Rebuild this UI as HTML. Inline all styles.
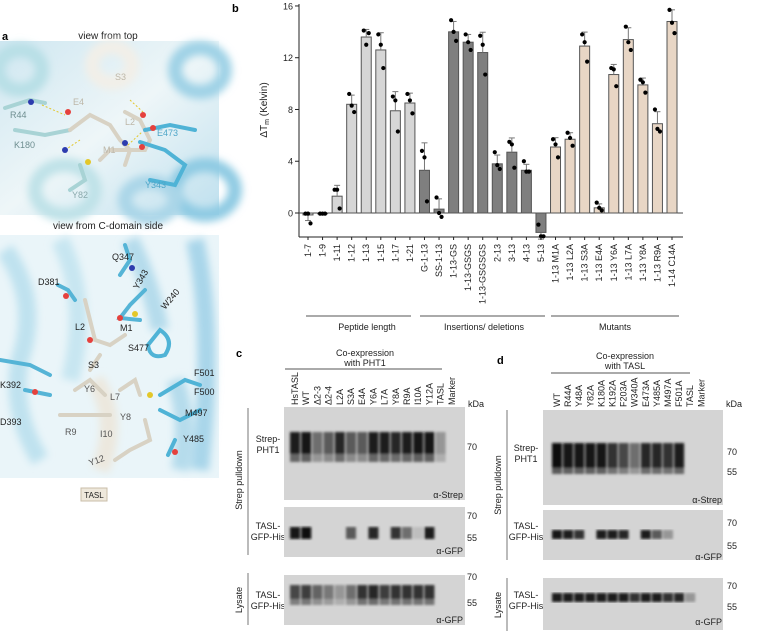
<!DOCTYPE html>
<html><head><meta charset="utf-8">
<style>
html,body{margin:0;padding:0;background:#fff;}
svg{display:block;font-family:"Liberation Sans","DejaVu Sans",sans-serif;}
</style></head>
<body>
<svg id="fig" width="757" height="631" viewBox="0 0 757 631" xmlns="http://www.w3.org/2000/svg">
<defs>
<filter id="blur1"><feGaussianBlur stdDeviation="1.3"/></filter>
<filter id="blur3"><feGaussianBlur stdDeviation="4"/></filter>
<linearGradient id="bgA" x1="0" y1="0" x2="1" y2="1">
<stop offset="0" stop-color="#cfe7f1"/><stop offset="0.5" stop-color="#eef6f8"/><stop offset="1" stop-color="#bfe0ee"/></linearGradient>
</defs>

<!-- Panel a -->
<g>
<text x="2" y="40" font-size="11" font-weight="bold">a</text>
<text x="108" y="39" font-size="10" text-anchor="middle" fill="#222">view from top</text>
<g>
<rect x="0" y="41" width="219" height="174" fill="url(#bgA)"/>
<g filter="url(#blur3)" fill="none" stroke-width="14">
<ellipse cx="112" cy="65" rx="20" ry="18" stroke="#f2efe8"/>
<ellipse cx="200" cy="70" rx="25" ry="22" stroke="#9fd2e6"/>
<ellipse cx="20" cy="70" rx="22" ry="20" stroke="#b8dfe6"/>
<ellipse cx="205" cy="190" rx="30" ry="25" stroke="#8fcbe3"/>
<ellipse cx="65" cy="190" rx="30" ry="25" stroke="#bfe2e8"/>
<ellipse cx="150" cy="200" rx="25" ry="18" stroke="#aad6e8"/>
</g>
<g stroke-width="4" stroke-linecap="round" fill="none">
<path d="M5 108 L30 100 L45 103 M70 130 L45 135 L15 130" stroke="#a8d3d5"/>
<path d="M70 130 L90 115 L110 125 L120 140 L130 150 L125 165" stroke="#d8d2c4"/>
<path d="M125 112 L140 120 L150 140 L145 150 L110 150 L100 160" stroke="#d8d2c4"/>
<path d="M145 130 L170 125 L195 130 M140 142 L165 150 L185 165 L175 185 L150 180" stroke="#4fb3d6"/>
<path d="M80 165 L85 180 L70 190" stroke="#a8d3d5"/>
</g>
<g fill="none" stroke="#e3c729" stroke-width="1" stroke-dasharray="2,2">
<path d="M42 105 L65 115 M65 150 L80 140 M130 100 L143 112 M128 145 L142 132"/>
</g>
<circle cx="31" cy="102" r="3" fill="#2d3cae"/><circle cx="65" cy="150" r="3" fill="#2d3cae"/>
<circle cx="68" cy="112" r="3" fill="#e5413d"/><circle cx="143" cy="115" r="3" fill="#e5413d"/>
<circle cx="153" cy="128" r="3" fill="#e5413d"/><circle cx="142" cy="147" r="3" fill="#e5413d"/>
<circle cx="125" cy="143" r="3" fill="#2d3cae"/><circle cx="88" cy="162" r="3" fill="#e3c729"/>
<text x="10" y="118" font-size="9" fill="#6e8e90">R44</text>
<text x="14" y="148" font-size="9" fill="#6e8e90">K180</text>
<text x="73" y="105" font-size="9" fill="#bdb7a8">E4</text>
<text x="115" y="80" font-size="9" fill="#bdb7a8">S3</text>
<text x="125" y="125" font-size="9" fill="#bdb7a8">L2</text>
<text x="103" y="153" font-size="9" fill="#bdb7a8">M1</text>
<text x="157" y="136" font-size="9" fill="#4fa6c8">E473</text>
<text x="145" y="188" font-size="9" fill="#4fa6c8">Y343</text>
<text x="72" y="198" font-size="9" fill="#8aa9ac">Y82</text>
</g>
<text x="108" y="229" font-size="10" text-anchor="middle" fill="#222">view from C-domain side</text>
<g>
<rect x="0" y="235" width="219" height="243" fill="#eaf5f9"/>
<g filter="url(#blur3)" fill="none" stroke-width="18">
<path d="M5 250 Q40 300 20 360 Q10 410 40 460" stroke="#bfe2ef"/>
<path d="M60 240 Q90 300 70 380" stroke="#c7e6f1"/>
<path d="M130 240 Q150 280 160 330" stroke="#b5dcec"/>
<path d="M195 240 Q215 330 200 470" stroke="#a9d6ea"/>
<path d="M175 380 Q190 420 180 470" stroke="#b5dcec"/>
<path d="M95 380 Q120 420 100 470" stroke="#ece8de"/>
</g>
<g stroke-width="4" stroke-linecap="round" fill="none">
<path d="M125 245 L130 260 L120 275 M145 290 L130 305 L120 318 L140 320" stroke="#55b4d6"/>
<path d="M58 285 L68 290 L75 300 M0 360 L30 365 L50 375 M25 390 L50 395" stroke="#55b4d6"/>
<path d="M85 300 L90 320 L95 340 L110 345 L125 335 M100 355 L90 370 M75 390 L90 380 L105 395 M60 415 L90 415 L110 415 M120 390 L135 380 L140 395 M145 420 L150 440 L130 450 L115 460" stroke="#d8d2c4"/>
<path d="M160 330 Q175 340 165 355 Q150 360 148 345 Z M160 395 L185 380 L200 385 M160 410 L180 420 L200 410 M168 455 L175 440" stroke="#4fb3d6"/>
</g>
<circle cx="66" cy="296" r="3" fill="#e5413d"/><circle cx="132" cy="268" r="3" fill="#2d3cae"/>
<circle cx="90" cy="340" r="3" fill="#e5413d"/><circle cx="120" cy="318" r="3" fill="#e5413d"/>
<circle cx="135" cy="314" r="3" fill="#e3c729"/><circle cx="35" cy="392" r="3" fill="#e5413d"/>
<circle cx="150" cy="395" r="3" fill="#e3c729"/><circle cx="175" cy="452" r="3" fill="#e5413d"/>
<text x="112" y="260" font-size="9" fill="#222">Q347</text>
<text x="38" y="285" font-size="9" fill="#222">D381</text>
<text x="138" y="290" font-size="9" fill="#222" transform="rotate(-60 138 290)">Y343</text>
<text x="165" y="310" font-size="9" fill="#222" transform="rotate(-50 165 310)">W240</text>
<text x="75" y="330" font-size="9" fill="#222">L2</text>
<text x="120" y="331" font-size="9" fill="#222">M1</text>
<text x="128" y="351" font-size="9" fill="#222">S477</text>
<text x="88" y="368" font-size="9" fill="#222">S3</text>
<text x="0" y="388" font-size="9" fill="#222">K392</text>
<text x="194" y="376" font-size="9" fill="#222">F501</text>
<text x="194" y="395" font-size="9" fill="#222">F500</text>
<text x="84" y="392" font-size="9" fill="#555">Y6</text>
<text x="110" y="400" font-size="9" fill="#555">L7</text>
<text x="185" y="416" font-size="9" fill="#222">M497</text>
<text x="0" y="425" font-size="9" fill="#222">D393</text>
<text x="120" y="420" font-size="9" fill="#555">Y8</text>
<text x="183" y="442" font-size="9" fill="#222">Y485</text>
<text x="65" y="435" font-size="9" fill="#555">R9</text>
<text x="100" y="437" font-size="9" fill="#555">I10</text>
<text x="90" y="466" font-size="9" fill="#555" transform="rotate(-20 90 466)">Y12</text>
</g>
<rect x="81" y="488" width="26" height="13" fill="#eee8dc" stroke="#c9bea8"/>
<text x="94" y="498" font-size="8" text-anchor="middle" fill="#222">TASL</text>
</g>

<!-- Panel b chart -->
<g id="chartB">
<text x="232" y="12" font-size="11" font-weight="bold">b</text>
<text x="267" y="110" font-size="10" fill="#222" text-anchor="middle" transform="rotate(-90 267 110)">ΔT<tspan font-size="7" dy="2">m</tspan><tspan dy="-2"> (Kelvin)</tspan></text>
<g id="yaxis"></g>
<g id="bars"></g>
<g id="xlabels"></g>
<g>
<line x1="306" y1="316" x2="411" y2="316" stroke="#555" stroke-width="1"/>
<line x1="420" y1="316" x2="545" y2="316" stroke="#555" stroke-width="1"/>
<line x1="551" y1="316" x2="679" y2="316" stroke="#555" stroke-width="1"/>
<text x="367" y="330" font-size="9" text-anchor="middle" fill="#222">Peptide length</text>
<text x="484" y="330" font-size="9" text-anchor="middle" fill="#222">Insertions/ deletions</text>
<text x="615" y="330" font-size="9" text-anchor="middle" fill="#222">Mutants</text>
</g>
</g>

<!-- Panel c -->
<g>
<text x="236" y="357" font-size="11" font-weight="bold">c</text>
<text x="365" y="356" font-size="9" text-anchor="middle" fill="#222">Co-expression</text>
<text x="365" y="366" font-size="9" text-anchor="middle" fill="#222">with PHT1</text>
<line x1="285" y1="369" x2="442" y2="369" stroke="#555"/>
<g id="laneC"></g>
<text x="468" y="407" font-size="9" fill="#222">kDa</text>
<line x1="248" y1="408" x2="248" y2="555" stroke="#777"/>
<text x="242" y="480" font-size="9" fill="#222" text-anchor="middle" transform="rotate(-90 242 480)">Strep pulldown</text>
<line x1="248" y1="573" x2="248" y2="625" stroke="#777"/>
<text x="242" y="600" font-size="9" fill="#222" text-anchor="middle" transform="rotate(-90 242 600)">Lysate</text>
<text x="268" y="442" font-size="9" text-anchor="middle" fill="#222">Strep-</text><text x="268" y="453" font-size="9" text-anchor="middle" fill="#222">PHT1</text>
<text x="268" y="529" font-size="9" text-anchor="middle" fill="#222">TASL-</text><text x="268" y="540" font-size="9" text-anchor="middle" fill="#222">GFP-His</text>
<text x="268" y="598" font-size="9" text-anchor="middle" fill="#222">TASL-</text><text x="268" y="609" font-size="9" text-anchor="middle" fill="#222">GFP-His</text>
<g id="blotC"></g>
<text x="467" y="450" font-size="9" fill="#222">70</text>
<text x="467" y="519" font-size="9" fill="#222">70</text><text x="467" y="541" font-size="9" fill="#222">55</text>
<text x="467" y="580" font-size="9" fill="#222">70</text><text x="467" y="606" font-size="9" fill="#222">55</text>
<text x="463" y="498" font-size="9" text-anchor="end" fill="#222">α-Strep</text>
<text x="463" y="554" font-size="9" text-anchor="end" fill="#222">α-GFP</text>
<text x="463" y="623" font-size="9" text-anchor="end" fill="#222">α-GFP</text>
</g>

<!-- Panel d -->
<g>
<text x="497" y="364" font-size="11" font-weight="bold">d</text>
<text x="625" y="359" font-size="9" text-anchor="middle" fill="#222">Co-expression</text>
<text x="625" y="369" font-size="9" text-anchor="middle" fill="#222">with TASL</text>
<line x1="551" y1="373" x2="690" y2="373" stroke="#555"/>
<g id="laneD"></g>
<text x="726" y="407" font-size="9" fill="#222">kDa</text>
<line x1="507" y1="410" x2="507" y2="560" stroke="#777"/>
<text x="501" y="485" font-size="9" fill="#222" text-anchor="middle" transform="rotate(-90 501 485)">Strep pulldown</text>
<line x1="507" y1="578" x2="507" y2="631" stroke="#777"/>
<text x="501" y="605" font-size="9" fill="#222" text-anchor="middle" transform="rotate(-90 501 605)">Lysate</text>
<text x="526" y="451" font-size="9" text-anchor="middle" fill="#222">Strep-</text><text x="526" y="462" font-size="9" text-anchor="middle" fill="#222">PHT1</text>
<text x="526" y="529" font-size="9" text-anchor="middle" fill="#222">TASL-</text><text x="526" y="540" font-size="9" text-anchor="middle" fill="#222">GFP-His</text>
<text x="526" y="598" font-size="9" text-anchor="middle" fill="#222">TASL-</text><text x="526" y="609" font-size="9" text-anchor="middle" fill="#222">GFP-His</text>
<g id="blotD"></g>
<text x="727" y="455" font-size="9" fill="#222">70</text><text x="727" y="475" font-size="9" fill="#222">55</text>
<text x="727" y="526" font-size="9" fill="#222">70</text><text x="727" y="549" font-size="9" fill="#222">55</text>
<text x="727" y="589" font-size="9" fill="#222">70</text><text x="727" y="610" font-size="9" fill="#222">55</text>
<text x="722" y="503" font-size="9" text-anchor="end" fill="#222">α-Strep</text>
<text x="722" y="560" font-size="9" text-anchor="end" fill="#222">α-GFP</text>
<text x="722" y="625" font-size="9" text-anchor="end" fill="#222">α-GFP</text>
</g>
</svg>
<script>
const categories = ["1-7","1-9","1-11","1-12","1-13","1-15","1-17","1-21","G-1-13","SS-1-13","1-13-GS","1-13-GSGS","1-13-GSGSGS","2-13","3-13","4-13","5-13","1-13 M1A","1-13 L2A","1-13 S3A","1-13 E4A","1-13 Y6A","1-13 L7A","1-13 Y8A","1-13 R9A","1-14 C14A"];
const groups = ["light","light","light","light","light","light","light","light","dark","dark","dark","dark","dark","dark","dark","dark","dark","tan","tan","tan","tan","tan","tan","tan","tan","tan"];
const means = [-0.15,-0.05,1.3,8.4,13.6,12.6,7.9,8.5,3.3,0.3,14.0,13.2,12.4,3.8,4.7,3.3,-1.5,5.1,5.7,12.9,0.4,10.7,13.4,9.9,6.9,14.8];
const rep1 = [-0.05,-0.05,1.8,9.2,14.1,13.8,9.0,9.2,4.8,1.2,14.9,13.8,13.7,4.7,5.5,4.0,-0.9,5.7,6.2,13.8,0.8,11.2,14.4,10.3,8.0,15.7];
const rep2 = [-0.05,-0.05,1.8,8.3,13.0,13.0,8.7,8.7,4.3,0.0,14.0,13.2,13.0,3.7,5.3,3.2,-1.8,5.3,5.8,13.2,0.4,11.1,13.2,10.1,6.5,14.7];
const rep3 = [-0.8,-0.05,0.35,7.8,13.9,11.2,6.3,7.7,0.9,-0.3,13.3,12.6,10.7,3.4,3.5,3.2,-1.8,4.3,5.2,11.7,0.2,9.8,12.6,9.3,6.3,13.9];
const yTicks = [0,4,8,12,16];
const laneLabelsC = ["HsTASL","WT","Δ2-3","Δ2-4","L2A","S3A","E4A","Y6A","L7A","Y8A","R9A","I10A","Y12A","TASL","Marker"];
const laneLabelsD = ["WT","R44A","Y48A","Y82A","K180A","K192A","F203A","W340A","E473A","Y485A","M497A","F501A","TASL","Marker"];
const strepC = [0.9,0.95,0.5,0.6,0.85,0.6,0.6,0.9,0.9,0.85,0.9,0.95,0.95,0.3,0];
const gfpC = [0.95,1,0,0,0,0.6,0,0.85,0,0.8,0.5,0.1,0.9,0,0];
const lysC = [0.7,0.75,0.55,0.45,0.3,0.5,0.8,0.85,0.75,0.8,0.8,0.8,0.8,0,0];
const strepD = [1,0.95,0.95,0.95,0.95,0.8,0.7,0.5,0.85,0.85,0.8,0.9,0,0];
const gfpD = [0.95,0.9,0.8,0,0.9,0.9,0.85,0,0.9,0.6,0.3,0,0,0];
const lysD = [0.9,0.9,0.9,0.9,0.9,0.9,0.9,0.8,0.9,0.9,0.8,0.85,0.3,0];

const NS="http://www.w3.org/2000/svg";
function mk(tag, attrs, parent){const e=document.createElementNS(NS,tag);for(const k in attrs)e.setAttribute(k,attrs[k]);parent.appendChild(e);return e;}
const yS = v => 213 - v*12.94;
const xS = i => 308 + i*14.56;
const fills = {light:"#d6d6d6", dark:"#7f7f7f", tan:"#e8d6c5"};

const ya = document.getElementById('yaxis');
const axl = mk('line',{x1:299,y1:4,x2:299,y2:237,stroke:'#222','stroke-width':1},ya);


yTicks.forEach(t=>{
  mk('line',{x1:295,y1:yS(t),x2:299,y2:yS(t),stroke:'#222'},ya);
  const tx=mk('text',{x:293,y:yS(t)+3.5,'font-size':9,'text-anchor':'end',fill:'#222'},ya);
  tx.textContent=t;
  
  
});
const base = mk('line',{x1:299,y1:237,x2:683,y2:237,stroke:'#222'},ya);


const zero = mk('line',{x1:299,y1:yS(0),x2:683,y2:yS(0),stroke:'#444','stroke-width':1},ya);



const bg = document.getElementById('bars');
const xl = document.getElementById('xlabels');
categories.forEach((c,i)=>{
  const x=xS(i), m=means[i];
  const y0=yS(0), y1=yS(m);
  const b=mk('rect',{x:x-5,y:Math.min(y0,y1),width:10,height:Math.max(0.8,Math.abs(y1-y0)),fill:fills[groups[i]],stroke:'#555','stroke-width':1},bg);
  
  
  const r=[rep1[i],rep2[i],rep3[i]];
  const avg=(r[0]+r[1]+r[2])/3;
  const sd=Math.sqrt(r.reduce((s,v)=>s+(v-avg)*(v-avg),0)/2);
  const ye=m>=0?yS(m+sd):yS(m-sd);
  mk('line',{x1:x,y1:y1,x2:x,y2:ye,stroke:'#777'},bg);
  mk('line',{x1:x-3,y1:ye,x2:x+3,y2:ye,stroke:'#777'},bg);
  r.forEach((v,k)=>{
    const d=mk('circle',{cx:x+(k-1)*2.5,cy:yS(v),r:2.1,fill:'#000'},bg);
    
    
  });
  mk('line',{x1:x,y1:237,x2:x,y2:240,stroke:'#222'},xl);
  const t=mk('text',{x:x+3,y:244,'font-size':9,'text-anchor':'end',fill:'#222',transform:`rotate(-90 ${x+3} 244)`},xl);
  t.textContent=c;
  
  
});

function lanes(id, labels, x0, dx, yb){
  const g=document.getElementById(id);
  labels.forEach((l,i)=>{
    const x=x0+i*dx;
    const t=mk('text',{x:x+3,y:yb,'font-size':9,fill:'#222',transform:`rotate(-90 ${x+3} ${yb})`},g);
    t.textContent=l;
    
    
  });
}
lanes('laneC',laneLabelsC,295,11.2,405);
lanes('laneD',laneLabelsD,557,11.1,407);

function blot(g, x, y, w, h, vals, x0, dx, bandY, bandH, name, second){
  const r=mk('rect',{x:x,y:y,width:w,height:h,fill:'#d4d4d4'},g);
  
  
  const bg2=mk('g',{filter:'url(#blur1)'},g);
  vals.forEach((v,i)=>{
    if(v<=0) return;
    const c=Math.round(210-200*v);
    mk('rect',{x:x0+i*dx-5,y:bandY,width:10,height:bandH,fill:`rgb(${c},${c},${c})`},bg2);
    if(second){
      const c2=Math.round(210-120*v);
      mk('rect',{x:x0+i*dx-5,y:bandY+bandH,width:10,height:second,fill:`rgb(${c2},${c2},${c2})`},bg2);
    }
  });
}
const gc=document.getElementById('blotC');
blot(gc,284,407,181,93,strepC,295,11.2,432,22,'blot-c-strep',8);
blot(gc,284,507,181,50,gfpC,295,11.2,527,12,'blot-c-gfp',0);
blot(gc,284,575,181,50,lysC,295,11.2,585,14,'blot-c-lysate',6);
const gd=document.getElementById('blotD');
blot(gd,543,410,180,95,strepD,557,11.1,443,25,'blot-d-strep',6);
blot(gd,543,510,180,50,gfpD,557,11.1,530,9,'blot-d-gfp',0);
blot(gd,543,578,180,52,lysD,557,11.1,593,9,'blot-d-lysate',0);
</script>
</body></html>
